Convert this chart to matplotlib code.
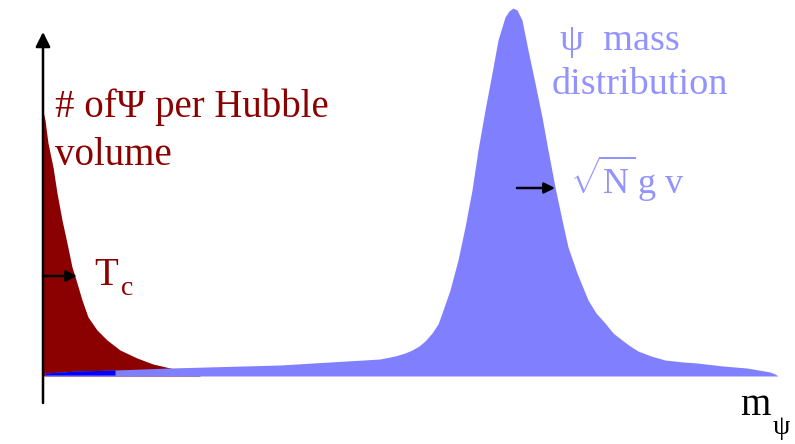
import numpy as np
import matplotlib
matplotlib.use('Agg')
import matplotlib.pyplot as plt

plt.rcParams['font.family'] = ['Liberation Serif', 'DejaVu Serif']
plt.rcParams['mathtext.fontset'] = 'custom'
plt.rcParams['mathtext.rm'] = 'Liberation Serif'
plt.rcParams['mathtext.it'] = 'Liberation Serif:italic'

# number density of psi per Hubble volume (falls off past T_c)
red_m = [0, 2, 5, 10, 14, 19, 24, 29, 34, 39, 45, 54, 64, 77, 94, 110,
         127, 142, 157]
red_n = [265, 256, 233, 209, 183, 156, 133, 109, 93, 76, 59, 46, 36, 26,
         18, 12, 8, 5, 3]

# psi mass distribution, peak of width sqrt(N) g v
blue_m = [2, 34, 72, 127, 237, 287, 337, 352, 362, 369, 376, 382, 389, 395,
          399, 407, 415, 422, 429, 435, 442, 449, 455, 462, 466, 470, 474,
          479, 485, 492, 499, 505, 512, 519, 525, 534, 545, 553, 562, 570,
          579, 587, 595, 608, 622, 640, 654, 680, 704, 727, 732, 735]
blue_n = [3, 5, 6, 8, 11, 14, 17, 20, 23, 26, 30, 35, 43, 52,
          63, 86, 116, 149, 186, 226, 266, 303, 336, 359, 365, 368, 366,
          356, 326, 293, 259, 226, 189, 156, 129, 103, 76, 63, 53, 43,
          36, 30, 25, 20, 16, 14, 13, 10, 8, 4, 2, 0]

dark_red = '#8b0000'
light_blue = '#8080ff'
text_blue = '#9393ff'

fig = plt.figure(figsize=(7.95, 4.44), dpi=100)
ax = fig.add_axes([0, 0, 1, 1])
ax.set_xlim(-43, 752)
ax.set_ylim(-68, 376)
ax.axis('off')

ax.fill_between(red_m, 0, red_n, color=dark_red, lw=0)
ax.fill_between(blue_m, 0, blue_n, color=light_blue, lw=0)

# overlap of the two populations near m = 0
bm = np.array(blue_m)
bn = np.array(blue_n)
sel = bm <= 72
ax.fill_between(bm[sel], 1, bn[sel], color='#0000ff', lw=0)

# axes with arrow heads
ax.annotate('', xy=(0, 344), xytext=(0, -27),
            arrowprops=dict(arrowstyle='-|>', color='black', lw=1.8,
                            mutation_scale=22, shrinkA=0, shrinkB=0))
ax.annotate('', xy=(754, 0), xytext=(-35, 0),
            arrowprops=dict(arrowstyle='-|>', color='black', lw=1.8,
                            mutation_scale=22, shrinkA=0, shrinkB=0))

# width markers
ax.annotate('', xy=(34, 100), xytext=(0, 100),
            arrowprops=dict(arrowstyle='-|>', color='black', lw=1.8,
                            mutation_scale=16, shrinkA=0, shrinkB=0))
ax.annotate('', xy=(512, 188), xytext=(474, 188),
            arrowprops=dict(arrowstyle='-|>', color='black', lw=1.8,
                            mutation_scale=16, shrinkA=0, shrinkB=0))

ax.text(12, 259, '# of\u03a8 per Hubble', color=dark_red, fontsize=28,
        va='baseline', ha='left')
ax.text(12, 211, 'volume', color=dark_red, fontsize=28,
        va='baseline', ha='left')
ax.text(51, 91, 'T', color=dark_red, fontsize=28, va='baseline')
ax.text(78, 81, 'c', color=dark_red, fontsize=20, va='baseline')

ax.text(517, 326, '\u03c8  mass', color=text_blue, fontsize=27.5,
        va='baseline', ha='left')
ax.text(509, 282, 'distribution', color=text_blue, fontsize=27.5,
        va='baseline', ha='left')
ax.text(527, 182, r'$\sqrt{\mathrm{N}}\,\mathrm{g\ v}$', color=text_blue,
        fontsize=26, va='baseline', ha='left')

ax.text(697, -39, 'm', color='black', fontsize=28, va='baseline')
ax.text(730, -58, '\u03c8', color='black', fontsize=20, va='baseline')

fig.savefig('out.png', dpi=100)
